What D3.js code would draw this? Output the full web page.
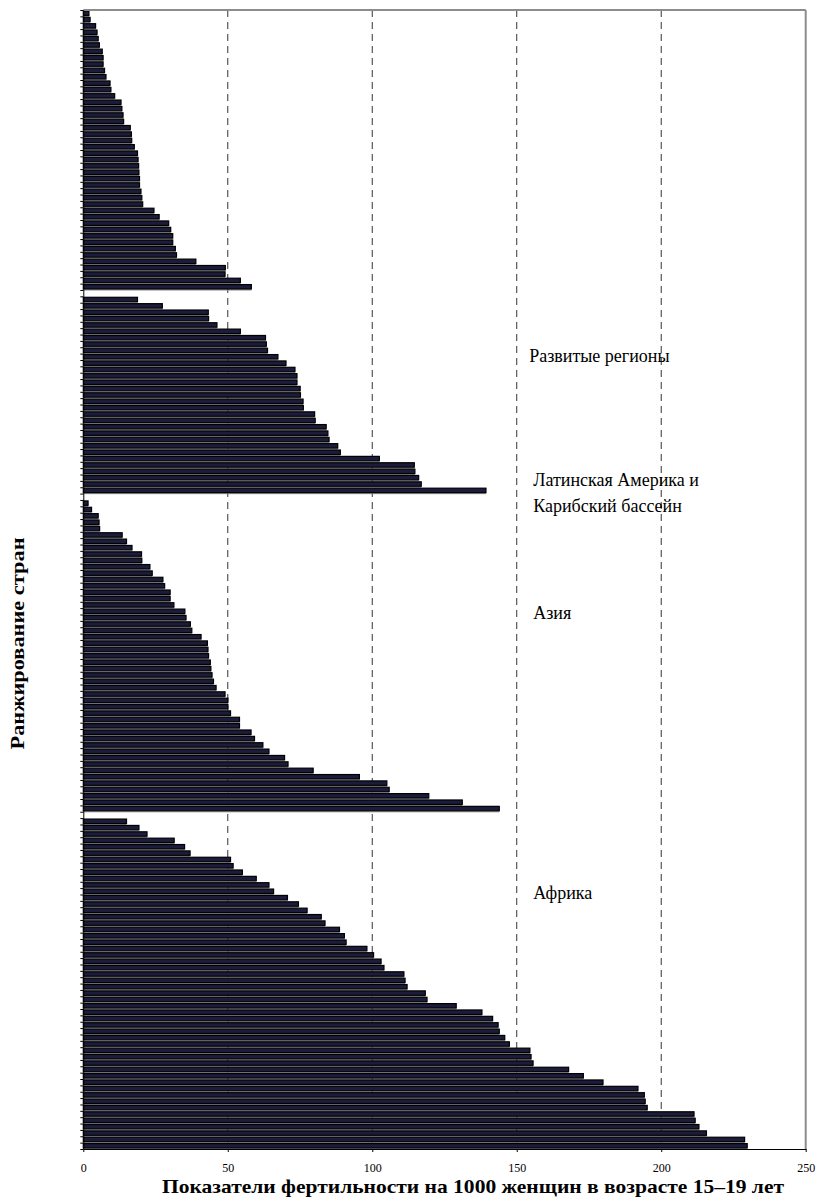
<!DOCTYPE html>
<html>
<head>
<meta charset="utf-8">
<script src="https://cdn.jsdelivr.net/npm/d3@7"></script>
<style>
  body { margin: 0; background: #fff; }
  text { font-family: "Liberation Serif", "DejaVu Serif", serif; }
</style>
</head>
<body>
<div class="chart"></div>
<script>
// fertility rates per 1000 women aged 15-19, countries ranked inside each region
var developed = [2.3, 2.7, 4.6, 5.1, 5.5, 5.9, 6.9, 7.2, 7.2, 7.7, 8.2, 9.6, 9.9, 11.2, 13.4, 13.7, 14.1, 14.3, 16.6, 17.0,
  17.1, 18.0, 19.1, 19.3, 19.5, 19.6, 19.8, 19.8, 20.3, 20.6, 20.9, 24.8, 26.6, 29.9, 30.6, 31.3, 31.3, 32.2, 32.6, 39.3,
  49.5, 49.4, 54.7, 58.5];
var latinAmerica = [19.1, 27.7, 43.6, 43.7, 46.6, 54.7, 63.4, 63.7, 64.1, 67.7, 70.5, 73.6, 74.3, 74.3, 75.4, 75.5, 76.4,
  76.5, 80.4, 80.6, 84.4, 85.0, 85.4, 88.4, 89.3, 102.8, 114.9, 115.1, 116.4, 117.3, 139.7];
var asia = [2.0, 3.2, 5.5, 5.8, 6.0, 13.8, 15.3, 17.2, 20.5, 20.6, 23.4, 24.2, 27.9, 28.5, 30.4, 30.4, 31.7, 35.5, 35.9,
  37.4, 37.9, 41.1, 43.3, 43.5, 43.7, 44.3, 44.5, 44.9, 45.4, 46.3, 49.4, 50.4, 50.4, 51.3, 54.4, 54.4, 58.4, 59.6, 62.5,
  64.6, 70.0, 71.2, 79.9, 95.9, 105.4, 106.2, 119.9, 131.5, 144.3];
var africa = [15.3, 19.6, 22.4, 31.8, 35.4, 37.3, 51.3, 52.2, 55.4, 60.2, 64.6, 66.2, 71.0, 74.8, 77.8, 82.7, 84.0, 89.0,
  90.7, 91.3, 98.5, 100.8, 103.4, 104.4, 111.3, 111.7, 112.4, 118.7, 119.3, 129.4, 138.3, 142.0, 143.9, 144.3, 146.2,
  147.8, 154.9, 155.3, 156.0, 168.3, 173.4, 180.2, 192.3, 194.5, 194.8, 195.5, 211.7, 212.1, 213.4, 216.0, 229.2, 230.1];
var xTicks = [0, 50, 100, 150, 200, 250];
var gridTicks = [50, 100, 150, 200];
var regionNames = [["Развитые регионы"], ["Латинская Америка и", "Карибский бассейн"], ["Азия"], ["Африка"]];
var xTitle = "Показатели фертильности на 1000 женщин в возрасте 15–19 лет";
var yTitle = "Ранжирование стран";

// one row per country, with an empty row between the regions
var rows = [];
[developed, latinAmerica, asia, africa].forEach(function(g, gi){
    if (gi > 0) rows.push(null);
    g.forEach(function(v){ rows.push(v); });
});

var w = 818, h = 1201;
var margin = {top: 10, right: 12.3, bottom: 52, left: 83.3};

var svg = d3.select("div.chart")
    .append("svg")
    .attr("width", w)
    .attr("height", h);

var x = d3.scaleLinear()
    .domain([0, 250])
    .range([margin.left, w - margin.right]);

var y = d3.scaleBand()
    .domain(d3.range(rows.length))
    .range([margin.top, h - margin.bottom])
    .paddingInner(0.3)
    .paddingOuter(0.15);

// linear index scale, used for the category tick marks between rows
var yIdx = d3.scaleLinear()
    .domain([0, rows.length])
    .range([margin.top, h - margin.bottom]);

//dashed grid
svg.selectAll(".grid")
    .data(gridTicks)
    .enter()
    .append("line")
        .attr("x1", d => x(d))
        .attr("x2", d => x(d))
        .attr("y1", margin.top)
        .attr("y2", h - margin.bottom)
        .attr("stroke", "#333")
        .attr("stroke-width", 1)
        .attr("stroke-dasharray", "7,5");

var bars = rows.map((v, i) => ({v: v, i: i})).filter(d => d.v !== null);

//light shadow under each bar
svg.selectAll(".shadow")
    .data(bars)
    .enter()
    .append("rect")
        .attr("x", x(0))
        .attr("y", d => y(d.i) + y.bandwidth() + 0.5)
        .attr("width", d => x(d.v) - x(0) - 1)
        .attr("height", 1)
        .attr("fill", "#8a8a8a");

svg.selectAll(".bar")
    .data(bars)
    .enter()
    .append("rect")
        .attr("x", x(0))
        .attr("y", d => y(d.i))
        .attr("width", d => x(d.v) - x(0) - 1)
        .attr("height", y.bandwidth())
        .attr("fill", "#1b1b3c")
        .attr("stroke", "#000")
        .attr("stroke-width", 1.2);

// frame: gray top and right border
svg.append("line")
    .attr("x1", margin.left).attr("x2", w - margin.right)
    .attr("y1", margin.top).attr("y2", margin.top)
    .attr("stroke", "#8c8c8c").attr("stroke-width", 2);
svg.append("line")
    .attr("x1", w - margin.right).attr("x2", w - margin.right)
    .attr("y1", margin.top).attr("y2", h - margin.bottom)
    .attr("stroke", "#8c8c8c").attr("stroke-width", 2);

var yAxis = svg.append("g")
    .attr("transform", `translate(${margin.left},0)`)
    .call(d3.axisLeft(yIdx).tickValues(d3.range(rows.length + 1)).tickSize(3).tickSizeOuter(0).tickFormat(""));
yAxis.selectAll("line, path").attr("stroke", "#000");

var xAxis = svg.append("g")
    .attr("transform", `translate(0,${h - margin.bottom})`)
    .call(d3.axisBottom(x).tickValues(xTicks).tickSize(3).tickSizeOuter(0).tickPadding(11.5));
xAxis.selectAll("line, path").attr("stroke", "#000");
xAxis.selectAll("text")
    .attr("font-family", "Liberation Serif, serif")
    .attr("font-size", 12)
    .attr("fill", "#000");

// titles are stretched like in the source picture
svg.append("text")
    .attr("x", 162)
    .attr("y", 1193)
    .attr("font-size", 19)
    .attr("font-weight", "bold")
    .attr("textLength", 622)
    .attr("lengthAdjust", "spacingAndGlyphs")
    .text(xTitle);

svg.append("text")
    .attr("transform", "translate(23.5,643.5) rotate(-90)")
    .attr("text-anchor", "middle")
    .attr("font-size", 18)
    .attr("font-weight", "bold")
    .attr("textLength", 212)
    .attr("lengthAdjust", "spacingAndGlyphs")
    .text(yTitle);

// region labels, placed in data space
var labelAt = [[154.3, 362], [155.7, 486], [155.7, 619], [155.7, 899]];
regionNames.forEach(function(lines, k){
    svg.append("text")
        .attr("y", labelAt[k][1])
        .attr("font-size", 18)
        .selectAll("tspan")
        .data(lines)
        .enter()
        .append("tspan")
            .attr("x", x(labelAt[k][0]))
            .attr("dy", (d, i) => i ? 26 : 0)
            .text(d => d);
});
</script>
</body>
</html>
